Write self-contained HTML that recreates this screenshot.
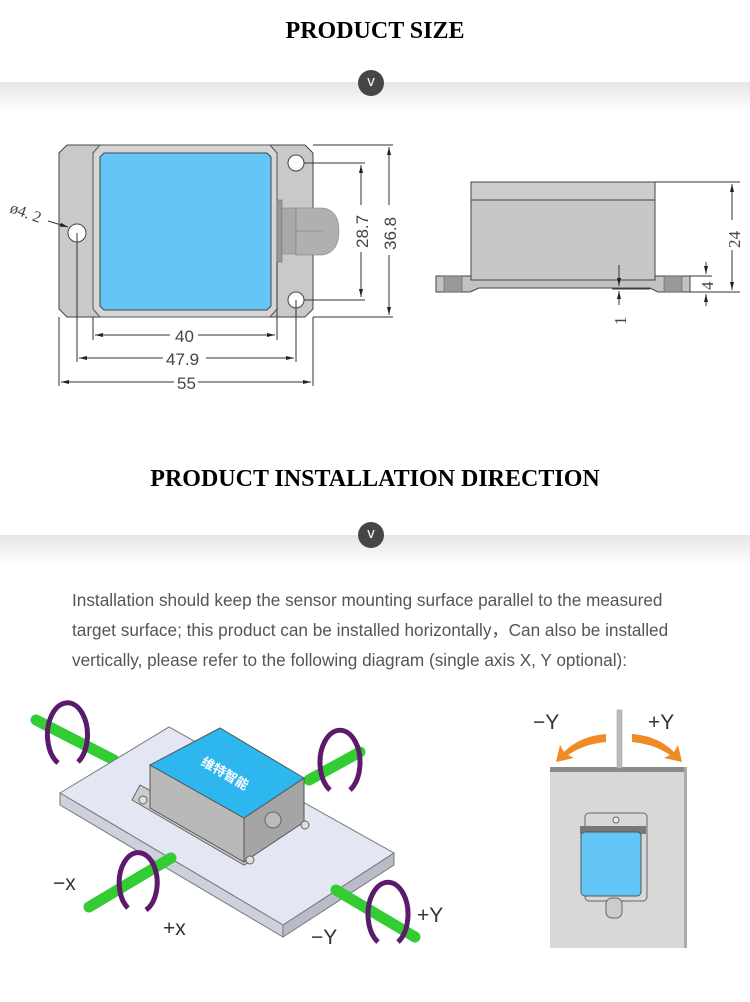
<!DOCTYPE html>
<html><head><meta charset="utf-8"><style>
html,body{margin:0;padding:0;background:#fff;}
body{width:750px;height:1002px;position:relative;overflow:hidden;font-family:"Liberation Sans",sans-serif;}
.t{position:absolute;left:0;width:750px;text-align:center;font-family:"Liberation Serif",serif;font-weight:bold;font-size:24px;color:#000;}
.band{position:absolute;left:0;width:750px;height:30px;background:linear-gradient(#e6e6e6,#fff);}
.c{position:absolute;width:26px;height:26px;border-radius:50%;background:#464646;color:#fff;font-size:15px;text-align:center;line-height:24px;}
.p{position:absolute;left:72px;top:585px;font-size:17.2px;line-height:30px;color:#555;white-space:nowrap;}
</style></head><body>
<div class="t" style="top:18px">PRODUCT SIZE</div>
<div class="band" style="top:82px"></div>
<div class="c" style="left:358px;top:70px">v</div>
<div class="t" style="top:466px">PRODUCT INSTALLATION DIRECTION</div>
<div class="band" style="top:535px"></div>
<div class="c" style="left:358px;top:522px">v</div>
<div class="p">Installation should keep the sensor mounting surface parallel to the measured<br>target surface; this product can be installed horizontally，Can also be installed<br>vertically, please refer to the following diagram (single axis X, Y optional):</div>

<svg style="position:absolute;left:0;top:0" width="750" height="1002" font-family="Liberation Sans,sans-serif">
<defs>
<marker id="a" markerWidth="8" markerHeight="6" refX="8" refY="3" orient="auto-start-reverse"><path d="M0,1 L8,3 L0,5z" fill="#222"/></marker>
</defs>
<polygon points="67,145 305,145 313,153 313,309 305,317 67,317 59,309 59,153" fill="#c9c9c9" stroke="#444" stroke-width="1"/>
<polygon points="100,145 270,145 277,153 277,309 270,317 100,317 93,309 93,153" fill="#d6d6d6" stroke="#555" stroke-width="1"/>
<polygon points="104,153 267,153 271,157 271,306 267,310 104,310 100,306 100,157" fill="#63c6f7" stroke="#444" stroke-width="1"/>
<rect x="277" y="200" width="5" height="62" fill="#999" stroke="#666" stroke-width=".5"/>
<rect x="282" y="208" width="14" height="46" fill="#a9a9a9" stroke="#777" stroke-width=".5"/>
<path d="M296,208 L323,208 Q339,210 339,231 Q339,252 323,255 L296,255z" fill="#b0b0b0" stroke="#777" stroke-width=".5"/>
<line x1="296" y1="231" x2="323" y2="231" stroke="#777" stroke-width=".5"/>
<circle cx="77" cy="233" r="9" fill="#fff" stroke="#444"/>
<circle cx="296" cy="163" r="8" fill="#fff" stroke="#444"/>
<circle cx="296" cy="300" r="8" fill="#fff" stroke="#444"/>
<g stroke="#333" stroke-width="1" fill="none">
<line x1="93" y1="317" x2="93" y2="340"/><line x1="277" y1="262" x2="277" y2="340"/>
<line x1="77" y1="233" x2="77" y2="362"/><line x1="296" y1="300" x2="296" y2="362"/>
<line x1="59" y1="317" x2="59" y2="386"/><line x1="313" y1="317" x2="313" y2="386"/>
<line x1="95" y1="335" x2="170" y2="335" marker-start="url(#a)"/><line x1="198" y1="335" x2="275" y2="335" marker-end="url(#a)"/>
<line x1="79" y1="358" x2="163" y2="358" marker-start="url(#a)"/><line x1="206" y1="358" x2="294" y2="358" marker-end="url(#a)"/>
<line x1="61" y1="382" x2="174" y2="382" marker-start="url(#a)"/><line x1="198" y1="382" x2="311" y2="382" marker-end="url(#a)"/>
<line x1="304" y1="163" x2="365" y2="163"/><line x1="304" y1="300" x2="365" y2="300"/>
<line x1="313" y1="145" x2="393" y2="145"/><line x1="313" y1="317" x2="393" y2="317"/>
<line x1="361" y1="165" x2="361" y2="205" marker-start="url(#a)"/><line x1="361" y1="252" x2="361" y2="297" marker-end="url(#a)"/>
<line x1="389" y1="147" x2="389" y2="205" marker-start="url(#a)"/><line x1="389" y1="255" x2="389" y2="315" marker-end="url(#a)"/>
<line x1="48" y1="221" x2="68" y2="227" marker-end="url(#a)"/>
</g>
<g font-size="17" fill="#444">
<text x="175" y="342">40</text><text x="166" y="365">47.9</text><text x="177" y="389">55</text>
<text transform="translate(368,248) rotate(-90)">28.7</text>
<text transform="translate(396,250) rotate(-90)">36.8</text>
<text transform="translate(9,212) rotate(20)" font-family="Liberation Serif,serif" font-size="16">ø4. 2</text>
</g>
<rect x="471" y="182" width="184" height="18" fill="#cdcdcd" stroke="#444"/>
<rect x="471" y="200" width="184" height="80" fill="#c6c6c6" stroke="#444"/>
<path d="M436,276 L471,276 L471,280 L655,280 L655,276 L690,276 L690,292 L658,292 L650,288 L479,288 L470,292 L436,292z" fill="#c2c2c2" stroke="#444"/>
<rect x="444" y="276" width="18" height="16" fill="#999" stroke="#555" stroke-width=".5"/>
<rect x="664" y="276" width="18" height="16" fill="#999" stroke="#555" stroke-width=".5"/>
<g stroke="#333" fill="none">
<line x1="655" y1="182" x2="740" y2="182"/><line x1="690" y1="292" x2="740" y2="292"/><line x1="690" y1="276" x2="712" y2="276"/>
<line x1="732" y1="184" x2="732" y2="220" marker-start="url(#a)"/><line x1="732" y1="250" x2="732" y2="290" marker-end="url(#a)"/>
<line x1="706" y1="262" x2="706" y2="274" marker-end="url(#a)"/><line x1="706" y1="306" x2="706" y2="294" marker-end="url(#a)"/>
<line x1="619" y1="265" x2="619" y2="286" marker-end="url(#a)"/><line x1="619" y1="305" x2="619" y2="291" marker-end="url(#a)"/>
<line x1="612" y1="289" x2="650" y2="289"/>
</g>
<g font-family="Liberation Serif,serif" font-size="17" fill="#444">
<text transform="translate(740,248) rotate(-90)">24</text>
<text transform="translate(713,290) rotate(-90)">4</text>
<text transform="translate(626,325) rotate(-90)">1</text>
</g>
<line x1="36" y1="720" x2="114" y2="760" stroke="#3c3" stroke-width="11" stroke-linecap="round"/>
<line x1="309" y1="780" x2="360" y2="752" stroke="#3c3" stroke-width="11" stroke-linecap="round"/>
<polygon points="60,793 169,727 394,853 283,925" fill="#e3e6f3" stroke="#777"/>
<polygon points="60,793 283,925 283,937 60,805" fill="#cdd0dd" stroke="#777"/>
<polygon points="283,925 394,853 394,865 283,937" fill="#b8bbc8" stroke="#777"/>
<polygon points="132,800 244,865 250,862 250,845 140,785" fill="#ccc" stroke="#666"/>
<polygon points="150,765 244,818 244,862 150,808" fill="#b9b9b9" stroke="#555"/>
<polygon points="244,818 304,778 304,822 244,862" fill="#a5a5a5" stroke="#555"/>
<polygon points="150,765 220,728 304,778 244,818" fill="#2eb7ef" stroke="#555"/>
<text x="200" y="775" fill="#fff" font-size="13" font-weight="bold" transform="rotate(30 220 770)" font-family="Liberation Sans,'Noto Sans CJK SC',sans-serif">维特智能</text>
<circle cx="273" cy="820" r="8" fill="#bbb" stroke="#666"/>
<circle cx="143" cy="800" r="4" fill="#ddd" stroke="#666"/><circle cx="305" cy="825" r="4" fill="#ddd" stroke="#666"/><circle cx="250" cy="860" r="4" fill="#ddd" stroke="#666"/>
<line x1="89" y1="907" x2="171" y2="858" stroke="#3c3" stroke-width="11" stroke-linecap="round"/>
<line x1="336" y1="890" x2="415" y2="937" stroke="#3c3" stroke-width="11" stroke-linecap="round"/>
<g fill="none" stroke="#5b1a6b" stroke-width="5">
<path d="M58,763 A20,32 0 1 1 78,762"/><path d="M330,790 A20,32 0 1 1 350,790"/>
<path d="M128,908 A19,30 0 1 1 146,910"/><path d="M378,942 A20,32 0 1 1 398,942"/>
</g>
<g font-size="21" fill="#333">
<text x="53" y="890">−x</text><text x="163" y="935">+x</text><text x="311" y="944">−Y</text><text x="417" y="922">+Y</text>
</g>
<polygon points="550,772 553,767 687,767 687,948 550,948" fill="#d8d8d8"/>
<rect x="550" y="767" width="137" height="5" fill="#8a8a8a"/>
<rect x="684" y="767" width="3" height="181" fill="#aaa"/>
<rect x="617" y="710" width="5" height="58" fill="#bbb" stroke="#999" stroke-width=".5"/>
<rect x="585" y="813" width="62" height="88" rx="4" fill="#d8d8d8" stroke="#666"/>
<circle cx="616" cy="820" r="3" fill="#eee" stroke="#666"/>
<rect x="580" y="826" width="66" height="8" fill="#777"/>
<rect x="581" y="832" width="60" height="64" rx="4" fill="#63c6f7" stroke="#555"/>
<rect x="606" y="898" width="16" height="20" rx="6" fill="#ccc" stroke="#666"/>
<g fill="#f08a24">
<path d="M606,734 Q580,736 564,752 L560,745 L556,762 L574,758 L568,755 Q584,744 606,742z"/>
<path d="M632,734 Q658,736 674,752 L678,745 L682,762 L664,758 L670,755 Q654,744 632,742z"/>
</g>
<g font-size="21" fill="#333"><text x="533" y="729">−Y</text><text x="648" y="729">+Y</text></g>
</svg>
</body></html>
